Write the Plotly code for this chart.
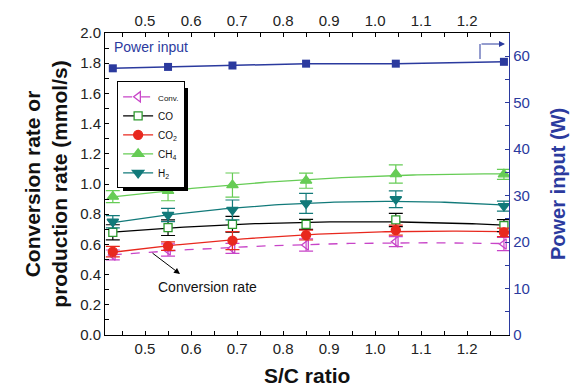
import numpy as np
import plotly.graph_objects as go

# ---------------- data ----------------
sc_ratio = [0.43, 0.55, 0.69, 0.85, 1.045, 1.28]

conv = [0.530, 0.563, 0.574, 0.596, 0.618, 0.603]
conv_err = [0.033, 0.040, 0.033, 0.040, 0.033, 0.044]

co = [0.680, 0.711, 0.733, 0.733, 0.762, 0.724]
co_err = [0.050, 0.052, 0.052, 0.033, 0.044, 0.040]

co2 = [0.552, 0.589, 0.625, 0.662, 0.695, 0.680]
co2_err = [0.035, 0.028, 0.060, 0.033, 0.033, 0.028]

ch4 = [0.916, 0.955, 0.993, 1.022, 1.066, 1.064]
ch4_err = [0.040, 0.066, 0.080, 0.050, 0.060, 0.033]

h2 = [0.750, 0.795, 0.828, 0.872, 0.899, 0.854]
h2_err = [0.040, 0.044, 0.066, 0.066, 0.055, 0.033]

power = [57.4, 57.7, 58.0, 58.4, 58.4, 58.8]

x_ticks = [0.5, 0.6, 0.7, 0.8, 0.9, 1.0, 1.1, 1.2]
x_tick_labels = ["0.5", "0.6", "0.7", "0.8", "0.9", "1.0", "1.1", "1.2"]
y_ticks = [0.0, 0.2, 0.4, 0.6, 0.8, 1.0, 1.2, 1.4, 1.6, 1.8, 2.0]
y2_ticks = [0, 10, 20, 30, 40, 50, 60]

# ---------------- styles ----------------
FONT = "Liberation Sans, Arial, sans-serif"
BLUE = "#2B3A9E"
MAG = "#C845C8"
GREEN_CO = "#2E9A2E"
RED = "#E8281E"
LGREEN = "#66CC55"
TEAL = "#127A7A"

series = [
    dict(name='<span style="font-size:8px">Conv.</span>', y=conv, e=conv_err, lc=MAG, dash="dash",
         ms="triangle-left-open", mc=MAG, mfill=None, ec=MAG, size=9),
    dict(name="CO", y=co, e=co_err, lc="black", dash="solid",
         ms="square", mc=GREEN_CO, mfill="white", ec="black", size=8),
    dict(name="CO<sub>2</sub>", y=co2, e=co2_err, lc=RED, dash="solid",
         ms="circle", mc=RED, mfill=RED, ec=RED, size=9),
    dict(name="CH<sub>4</sub>", y=ch4, e=ch4_err, lc=LGREEN, dash="solid",
         ms="triangle-up", mc=LGREEN, mfill=LGREEN, ec=LGREEN, size=10),
    dict(name="H<sub>2</sub>", y=h2, e=h2_err, lc=TEAL, dash="solid",
         ms="triangle-down", mc=TEAL, mfill=TEAL, ec=TEAL, size=10),
]

fig = go.Figure()

xs = np.array(sc_ratio)
xfit = np.linspace(min(sc_ratio), max(sc_ratio), 100)

# fitted curves
for s in series:
    coef = np.polyfit(xs, np.array(s["y"]), 2)
    fig.add_trace(go.Scatter(x=xfit, y=np.polyval(coef, xfit), mode="lines",
                             line=dict(color=s["lc"], width=1.3, dash=s["dash"]),
                             showlegend=False, hoverinfo="skip"))

# markers with error bars
for s in series:
    mk = dict(symbol=s["ms"], size=s["size"], color=s["mfill"] if s["mfill"] else s["mc"],
              line=dict(color=s["mc"], width=1.3))
    fig.add_trace(go.Scatter(x=sc_ratio, y=s["y"], mode="markers", marker=mk,
                             error_y=dict(type="data", array=s["e"], visible=True,
                                          color=s["ec"], thickness=1.2, width=7),
                             showlegend=False))

# legend entries
for s in series:
    mk = dict(symbol=s["ms"], size=s["size"], color=s["mfill"] if s["mfill"] else s["mc"],
              line=dict(color=s["mc"], width=1.3))
    fig.add_trace(go.Scatter(x=[None], y=[None], mode="lines+markers", name=s["name"],
                             marker=mk, line=dict(color=s["lc"], width=1.3, dash=s["dash"])))

# power input on right axis
fig.add_trace(go.Scatter(x=sc_ratio, y=power, mode="lines+markers", yaxis="y2",
                         line=dict(color=BLUE, width=1.5),
                         marker=dict(symbol="square", size=8, color=BLUE),
                         showlegend=False))

# top axis dummy
fig.add_trace(go.Scatter(x=[None], y=[None], xaxis="x2", showlegend=False))

XR = [0.413, 1.291]
tickfont = dict(family=FONT, size=15, color="#222")
fig.update_layout(
    width=571, height=389,
    margin=dict(l=105, r=62, t=33, b=54, autoexpand=False),
    paper_bgcolor="white", plot_bgcolor="white",
    font=dict(family=FONT),
    xaxis=dict(range=XR, tickvals=x_ticks, ticktext=x_tick_labels, ticks="inside",
               ticklen=4, tickcolor="black", showline=True, linecolor="black", linewidth=1,
               showgrid=False, zeroline=False, tickfont=tickfont, automargin=False,
               minor=dict(dtick=0.05, tick0=0, ticks="inside", ticklen=4, tickcolor="black")),
    xaxis2=dict(range=XR, overlaying="x", side="top", tickvals=x_ticks, ticktext=x_tick_labels,
                ticks="inside", ticklen=4, tickcolor="black", showline=True, linecolor="black",
                linewidth=1, showgrid=False, zeroline=False, tickfont=tickfont, automargin=False,
                minor=dict(dtick=0.05, tick0=0, ticks="inside", ticklen=4, tickcolor="black")),
    yaxis=dict(range=[0, 2.0], tickvals=y_ticks, ticktext=[f"{v:.1f}" for v in y_ticks],
               ticks="inside", ticklen=4, tickcolor="black", showline=True, linecolor="black",
               linewidth=1, showgrid=False, zeroline=False, tickfont=tickfont, automargin=False,
               minor=dict(dtick=0.1, ticks="inside", ticklen=4, tickcolor="black"),
               title=dict(text="<b>Conversion rate or<br>production rate (mmol/s)</b>",
                          font=dict(family=FONT, size=21, color="#111"), standoff=6)),
    yaxis2=dict(range=[0, 65], overlaying="y", side="right", tickvals=y2_ticks,
                ticks="inside", ticklen=4, tickcolor=BLUE, showline=True, linecolor=BLUE,
                linewidth=1.3, showgrid=False, zeroline=False, automargin=False,
                tickfont=dict(family=FONT, size=15, color=BLUE),
                minor=dict(dtick=5, ticks="inside", ticklen=4, tickcolor=BLUE)),
    legend=dict(x=0.03, y=0.84, xanchor="left", yanchor="top", bgcolor="white",
                bordercolor="black", borderwidth=1, font=dict(family=FONT, size=10, color="#111"),
                tracegroupgap=0, itemwidth=30),
    showlegend=True,
)

# axis titles as annotations (fixed positions)
fig.add_annotation(xref="paper", yref="paper", x=0.5, y=(335 - 375) / 302,
                   text="<b>S/C ratio</b>", showarrow=False, xanchor="center", yanchor="middle",
                   font=dict(family=FONT, size=21, color="#111"))
fig.add_annotation(xref="paper", yref="paper", x=(558 - 105) / 404, y=0.5,
                   text="<b>Power input (W)</b>", showarrow=False, textangle=-90,
                   xanchor="center", yanchor="middle",
                   font=dict(family=FONT, size=20, color=BLUE))

# legend shadow
fig.add_shape(type="rect", xref="paper", yref="paper",
              x0=(123 - 105) / 404, x1=(188 - 105) / 404,
              y0=(335 - 191) / 302, y1=(335 - 88) / 302,
              fillcolor="black", line=dict(width=0), layer="above")

# annotations
fig.add_annotation(xref="paper", yref="paper", x=(112 - 105) / 404, y=(335 - 47) / 302,
                   text="Power input", showarrow=False, xanchor="left", yanchor="middle",
                   font=dict(family=FONT, size=14, color=BLUE))
fig.add_shape(type="line", xref="paper", yref="paper",
              x0=(480 - 105) / 404, x1=(480 - 105) / 404,
              y0=(335 - 59) / 302, y1=(335 - 44) / 302, line=dict(color=BLUE, width=1))
fig.add_annotation(xref="paper", yref="paper",
                   x=(505 - 105) / 404, y=(335 - 44) / 302, ax=-25, ay=0,
                   text="", showarrow=True, arrowhead=2, arrowsize=1.2, arrowwidth=1,
                   arrowcolor=BLUE)
fig.add_annotation(xref="paper", yref="paper", x=(207 - 105) / 404, y=(335 - 287) / 302,
                   text="Conversion rate", showarrow=False, xanchor="center", yanchor="middle",
                   font=dict(family=FONT, size=14, color="#111"))
fig.add_annotation(xref="paper", yref="paper",
                   x=(180 - 105) / 404, y=(335 - 274) / 302, ax=-29, ay=-22,
                   text="", showarrow=True, arrowhead=2, arrowsize=1.2, arrowwidth=1,
                   arrowcolor="black")

fig.write_html("out.html")
